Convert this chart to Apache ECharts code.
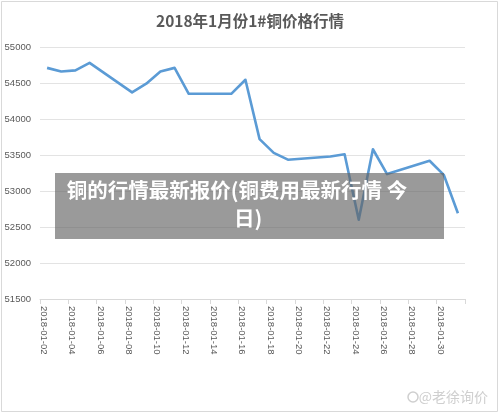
<!DOCTYPE html>
<html>
<head>
<meta charset="utf-8">
<script src="https://cdn.jsdelivr.net/npm/echarts@6/dist/echarts.min.js"></script>
<style>
html,body{margin:0;padding:0;background:#fff;}
#c{width:500px;height:413px;}
</style>
</head>
<body>
<div id="c"></div>
<script>
var titleText = '2018年1月份1#铜价格行情';
var overlayLine1 = '铜的行情最新报价(铜费用最新行情 今';
var overlayLine2 = '日)';
var watermark = '@老徐询价';

var dates = ['2018-01-02','2018-01-03','2018-01-04','2018-01-05','2018-01-06','2018-01-07',
  '2018-01-08','2018-01-09','2018-01-10','2018-01-11','2018-01-12','2018-01-13','2018-01-14',
  '2018-01-15','2018-01-16','2018-01-17','2018-01-18','2018-01-19','2018-01-20','2018-01-21',
  '2018-01-22','2018-01-23','2018-01-24','2018-01-25','2018-01-26','2018-01-27','2018-01-28',
  '2018-01-29','2018-01-30','2018-01-31'];

var prices = [54710, 54660, 54675, 54780, null, null,
  54370, 54490, 54660, 54710, 54350, null, null,
  54350, 54545, 53720, 53530, 53435, null, null,
  53480, 53510, 52600, 53580, 53235, null, null,
  53420, 53225, 52690];

var yMin = 51500, yMax = 55000, yStep = 500;

var chart = echarts.init(document.getElementById('c'), null, {renderer:'canvas'});
chart.setOption({
  backgroundColor: '#ffffff',
  animation: false,
  title: {
    text: titleText,
    left: 'center',
    top: 8,
    textStyle: {fontFamily: 'Noto Sans CJK SC', fontSize: 15.5, fontWeight: 'bold', color: '#595959'}
  },
  grid: {left: 40, right: 35, top: 47, bottom: 114},
  xAxis: {
    type: 'category',
    data: dates,
    boundaryGap: true,
    axisLine: {lineStyle: {color: '#d9d9d9', width: 1}},
    axisTick: {show: true, interval: 1, length: 5, lineStyle: {color: '#d9d9d9'}},
    axisLabel: {interval: 1, rotate: -90, margin: 7, fontSize: 9.5, color: '#595959',
      fontFamily: 'Liberation Sans', verticalAlign: 'top', lineHeight: 7}
  },
  yAxis: {
    type: 'value',
    min: yMin, max: yMax, interval: yStep,
    axisLine: {show: false},
    axisTick: {show: false},
    splitLine: {lineStyle: {color: '#e3e3e3', width: 1}},
    axisLabel: {margin: 9, fontSize: 9.5, color: '#595959', fontFamily: 'Liberation Sans',
      formatter: function (v) { return String(v); }}
  },
  series: [{
    type: 'line',
    data: prices,
    connectNulls: true,
    showSymbol: false,
    symbol: 'none',
    lineStyle: {color: '#5B9BD5', width: 2.6, join: 'round'},
    itemStyle: {color: '#5B9BD5'}
  }],
  graphic: [
    {type: 'rect', shape: {x: 1.5, y: 1.5, width: 496, height: 410},
      style: {fill: 'none', stroke: '#d9d9d9', lineWidth: 1}, silent: true},
    {type: 'rect', shape: {x: 55, y: 173, width: 389, height: 66},
      style: {fill: 'rgba(100,100,100,0.65)'}, z: 100},
    {type: 'text', x: 237, y: 190, z: 101,
      style: {text: overlayLine1, fill: '#ffffff', font: 'bold 20.5px "Noto Sans CJK SC"',
        textAlign: 'center', textVerticalAlign: 'middle', align: 'center', verticalAlign: 'middle'}},
    {type: 'text', x: 248, y: 218, z: 101,
      style: {text: overlayLine2, fill: '#ffffff', font: 'bold 20.5px "Noto Sans CJK SC"',
        textAlign: 'center', textVerticalAlign: 'middle', align: 'center', verticalAlign: 'middle'}},
    {type: 'text', x: 488, y: 397, z: 101,
      style: {text: watermark, fill: '#cfcfcf', font: '14px "Noto Sans CJK SC"',
        align: 'right', verticalAlign: 'middle', textAlign: 'right', textVerticalAlign: 'middle'}},
    {type: 'circle', shape: {cx: 413, cy: 397, r: 5}, z: 101,
      style: {fill: 'none', stroke: '#cfcfcf', lineWidth: 1.5}}
  ]
});
</script>
</body>
</html>
